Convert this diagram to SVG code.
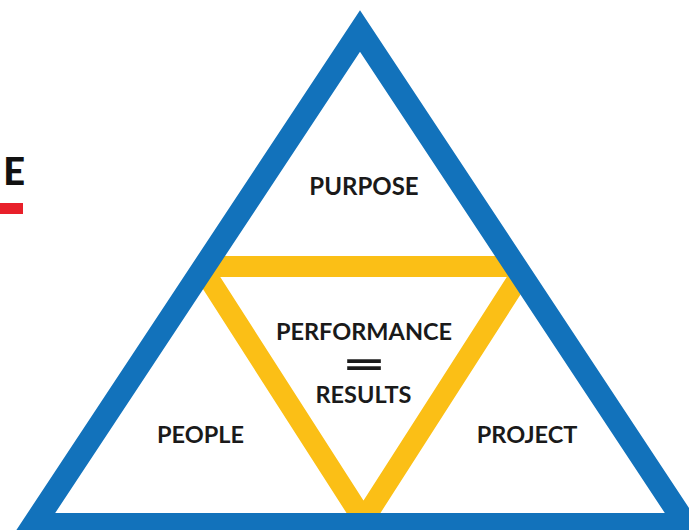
<svg xmlns="http://www.w3.org/2000/svg" width="689" height="530" viewBox="0 0 689 530">
<defs>
<style>
.lbl{font-family:Lato,"Liberation Sans",sans-serif;font-weight:bold;fill:#1a1a1a;text-anchor:middle;font-size:23.5px}
</style>
<clipPath id="inner"><polygon points="360,31 686.2,524.5 33.8,524.5"/></clipPath>
</defs>
<rect width="689" height="530" fill="#ffffff"/>
<g id="title-fragment">
<text x="25" y="185" font-family="Lato,'Liberation Sans',sans-serif" font-weight="900" font-size="38" fill="#111" text-anchor="end">E</text>
<rect x="0" y="203" width="23" height="11" fill="#e8202a"/>
</g>
<g id="connectors">
<polygon id="yellow-triangle" clip-path="url(#inner)" points="201,266.5 526,266.5 363.5,520" fill="none" stroke="#fbbf16" stroke-width="21" stroke-linejoin="miter" stroke-miterlimit="10"/>
<polygon id="blue-triangle" points="360,31 686.2,524.5 33.8,524.5" fill="none" stroke="#1272bb" stroke-width="23" stroke-linejoin="miter" stroke-miterlimit="10"/>
</g>
<g id="purpose"><text class="lbl" x="364" y="195" style="font-size:24px">PURPOSE</text></g>
<g id="performance">
<text class="lbl" x="364" y="340">PERFORMANCE</text>
<text class="lbl" x="0" y="0" style="font-size:40px" transform="translate(364 378) scale(1.9 1)">=</text>
<text class="lbl" x="363.5" y="403">RESULTS</text>
</g>
<g id="people"><text class="lbl" x="200.5" y="443">PEOPLE</text></g>
<g id="project"><text class="lbl" x="527" y="443">PROJECT</text></g>
</svg>
